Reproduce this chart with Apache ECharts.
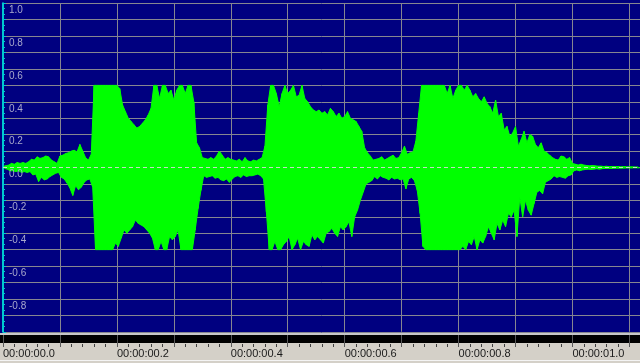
<!DOCTYPE html>
<html>
<head>
<meta charset="utf-8">
<script src="https://cdn.jsdelivr.net/npm/echarts@6/dist/echarts.min.js"></script>
<style>
html,body{margin:0;padding:0;background:#000080;}
#chart{width:640px;height:363px;}
</style>
</head>
<body>
<div id="chart"></div>
<script>
// sample spacing of the envelope readings (seconds)
const sampleStep = 0.005;

// upper envelope (max per sample window)
const upperEnv = [
0.005,0.01,0.015,0.025,0.02,0.03,0.025,0.03,0.025,0.035,
0.05,0.045,0.065,0.055,0.06,0.07,0.065,0.045,0.035,0.025,
0.07,0.075,0.085,0.09,0.1,0.105,0.095,0.14,0.1,0.06,
0.045,0.08,0.5,0.5,0.5,0.5,0.5,0.5,0.5,0.5,
0.5,0.48,0.38,0.34,0.3,0.28,0.26,0.24,0.25,0.27,
0.29,0.32,0.36,0.5,0.5,0.42,0.5,0.5,0.45,0.47,
0.41,0.47,0.5,0.5,0.45,0.5,0.5,0.4,0.15,0.12,
0.06,0.055,0.05,0.06,0.05,0.07,0.1,0.075,0.05,0.06,
0.05,0.045,0.04,0.05,0.035,0.06,0.04,0.035,0.045,0.04,
0.05,0.06,0.13,0.38,0.5,0.5,0.45,0.37,0.45,0.5,
0.45,0.47,0.5,0.43,0.44,0.5,0.42,0.4,0.37,0.35,
0.34,0.35,0.33,0.34,0.32,0.36,0.34,0.31,0.33,0.3,
0.31,0.34,0.3,0.29,0.28,0.25,0.22,0.12,0.09,0.07,
0.045,0.05,0.055,0.065,0.045,0.055,0.065,0.075,0.055,0.06,
0.09,0.13,0.08,0.09,0.095,0.16,0.33,0.5,0.5,0.5,
0.5,0.5,0.5,0.5,0.5,0.5,0.45,0.5,0.42,0.47,
0.5,0.5,0.47,0.5,0.47,0.43,0.45,0.42,0.4,0.43,
0.39,0.37,0.33,0.41,0.31,0.33,0.23,0.25,0.19,0.21,
0.25,0.13,0.17,0.22,0.15,0.2,0.19,0.14,0.12,0.15,
0.1,0.09,0.075,0.06,0.05,0.045,0.07,0.065,0.05,0.06,
0.025,0.02,0.015,0.02,0.015,0.012,0.01,0.012,0.01,0.008,
0.008,0.006,0.007,0.005,0.006,0.004,0.005,0.003,0.004,0.003,0.003,0.003,0.002,0.002
];

// lower envelope (min per sample window)
const lowerEnv = [
-0.005,-0.01,-0.02,-0.02,-0.025,-0.02,-0.03,-0.025,-0.03,-0.025,
-0.045,-0.04,-0.085,-0.06,-0.075,-0.07,-0.055,-0.045,-0.035,-0.03,
-0.06,-0.07,-0.095,-0.125,-0.17,-0.11,-0.135,-0.12,-0.09,-0.075,
-0.07,-0.12,-0.5,-0.5,-0.5,-0.5,-0.5,-0.5,-0.5,-0.46,
-0.48,-0.43,-0.38,-0.4,-0.38,-0.36,-0.32,-0.34,-0.35,-0.36,
-0.38,-0.4,-0.43,-0.5,-0.5,-0.45,-0.5,-0.5,-0.42,-0.44,
-0.42,-0.38,-0.5,-0.5,-0.5,-0.5,-0.5,-0.38,-0.25,-0.14,
-0.05,-0.06,-0.055,-0.05,-0.065,-0.06,-0.075,-0.08,-0.07,-0.09,
-0.07,-0.055,-0.05,-0.06,-0.045,-0.055,-0.05,-0.05,-0.045,-0.04,
-0.05,-0.07,-0.27,-0.5,-0.5,-0.45,-0.5,-0.5,-0.47,-0.45,
-0.42,-0.5,-0.47,-0.43,-0.5,-0.45,-0.47,-0.48,-0.41,-0.44,
-0.42,-0.44,-0.46,-0.4,-0.39,-0.37,-0.4,-0.42,-0.36,-0.38,
-0.36,-0.33,-0.42,-0.3,-0.26,-0.2,-0.15,-0.1,-0.09,-0.08,
-0.055,-0.07,-0.05,-0.06,-0.065,-0.075,-0.06,-0.07,-0.065,-0.075,
-0.07,-0.13,-0.07,-0.06,-0.08,-0.14,-0.28,-0.48,-0.5,-0.5,
-0.5,-0.5,-0.5,-0.5,-0.5,-0.5,-0.5,-0.5,-0.5,-0.5,
-0.5,-0.48,-0.5,-0.45,-0.47,-0.42,-0.5,-0.44,-0.46,-0.42,
-0.36,-0.4,-0.44,-0.34,-0.38,-0.32,-0.36,-0.28,-0.3,-0.26,
-0.42,-0.18,-0.3,-0.2,-0.26,-0.29,-0.22,-0.15,-0.14,-0.16,
-0.09,-0.08,-0.07,-0.05,-0.06,-0.055,-0.06,-0.065,-0.05,-0.045,
-0.02,-0.015,-0.02,-0.015,-0.012,-0.01,-0.012,-0.01,-0.008,-0.01,
-0.007,-0.006,-0.005,-0.006,-0.005,-0.004,-0.004,-0.004,-0.003,-0.003,-0.003,-0.002,-0.002,-0.002
];

// axis tick labels
const xTickLabels = ['00:00:00.0','00:00:00.2','00:00:00.4','00:00:00.6','00:00:00.8','00:00:01.0'];
const yTickValues = [1.0,0.8,0.6,0.4,0.2,0.0,-0.2,-0.4,-0.6,-0.8];
const yTickLabels = ['1.0','0.8','0.6','0.4','0.2','0.0','-0.2','-0.4','-0.6','-0.8'];

// build series from the envelope readings
const upperPts = upperEnv.map((v, i) => [i * sampleStep, v]);
const lowerPts = lowerEnv.map((v, i) => [i * sampleStep + sampleStep / 2, v]);
const wave = [];
for (let i = 0; i < upperEnv.length; i++) {
  wave.push(upperPts[i]);
  wave.push(lowerPts[i]);
}

const X_MIN = 0, X_MAX = 1.1186;

const chart = echarts.init(document.getElementById('chart'), null, {renderer: 'canvas'});
chart.setOption({
  animation: false,
  backgroundColor: '#000080',
  grid: {left: 0.5, right: 0, top: 3.25, bottom: 31.25, containLabel: false},
  graphic: [
    {type: 'rect', z: 1, shape: {x: 0, y: 333, width: 640, height: 2}, style: {fill: '#c8c8c8'}},
    {type: 'rect', z: 1, shape: {x: 0, y: 335, width: 640, height: 8}, style: {fill: '#000000'}},
    {type: 'rect', z: 1, shape: {x: 0, y: 343, width: 640, height: 20}, style: {fill: '#d4d0c8'}},
    {type: 'rect', z: 1, shape: {x: 0, y: 360, width: 640, height: 1}, style: {fill: '#f4f4f4'}}
  ],
  xAxis: [
    {
      // grid lines (beneath the waveform)
      type: 'value', min: X_MIN, max: X_MAX, interval: 0.1, position: 'bottom', z: 0,
      axisLine: {show: false, onZero: false}, axisTick: {show: false}, axisLabel: {show: false},
      splitLine: {show: true, lineStyle: {color: '#868690', width: 1}}
    },
    {
      // time ruler
      type: 'value', min: X_MIN, max: X_MAX, interval: 0.1, position: 'bottom',
      offset: 15.25, z: 10,
      axisLine: {show: false, onZero: false},
      splitLine: {show: false},
      axisTick: {show: true, inside: true, length: 12, lineStyle: {color: '#5a5a5a', width: 1}},
      minorTick: {show: true, splitNumber: 5, length: 3, lineStyle: {color: '#404040', width: 1}},
      axisLabel: {
        show: true,
        inside: false,
        margin: 1,
        align: 'left',
        color: '#1a1a1a',
        fontFamily: 'Liberation Sans',
        fontSize: 11,
        showMinLabel: true,
        showMaxLabel: false,
        hideOverlap: false,
        formatter: function (v) {
          const k = Math.round(v * 10);
          if (k % 2 !== 0) return '';
          return xTickLabels[k / 2] || '';
        }
      }
    }
  ],
  yAxis: [
    {
      type: 'value', min: -1, max: 1, interval: 0.1, z: 0,
      axisLine: {show: false, onZero: false}, axisTick: {show: false}, axisLabel: {show: false},
      splitLine: {show: true, lineStyle: {color: '#868690', width: 1}}
    },
    {
      type: 'value', min: -1, max: 1, interval: 0.1, position: 'left', z: 10,
      splitLine: {show: false},
      axisLine: {show: true, onZero: false, lineStyle: {color: '#00c8d0', width: 2}},
      axisTick: {show: true, inside: true, length: 3, lineStyle: {color: '#00c8d0'}},
      minorTick: {show: true, splitNumber: 3, length: 2, lineStyle: {color: '#00c8d0'}},
      axisLabel: {
        show: true,
        inside: true,
        margin: 6,
        align: 'left',
        verticalAlign: 'top',
        padding: [2, 0, 0, 0],
        color: '#a8a8cc',
        fontFamily: 'Liberation Sans',
        fontSize: 10,
        showMinLabel: true,
        showMaxLabel: true,
        hideOverlap: false,
        formatter: function (v) {
          for (let j = 0; j < yTickValues.length; j++) {
            if (Math.abs(v - yTickValues[j]) < 1e-6) return yTickLabels[j];
          }
          return '';
        }
      }
    }
  ],
  series: [
    {
      type: 'line', xAxisIndex: 0, yAxisIndex: 0,
      data: upperPts, showSymbol: false, symbol: 'none', sampling: null, z: 3,
      lineStyle: {color: '#00ff00', width: 1},
      areaStyle: {color: '#00ff00', opacity: 1, origin: 'auto'}
    },
    {
      type: 'line', xAxisIndex: 0, yAxisIndex: 0,
      data: lowerPts, showSymbol: false, symbol: 'none', sampling: null, z: 3,
      lineStyle: {color: '#00ff00', width: 1},
      areaStyle: {color: '#00ff00', opacity: 1, origin: 'auto'}
    },
    {
      type: 'line', xAxisIndex: 0, yAxisIndex: 0,
      data: wave, showSymbol: false, symbol: 'none', sampling: null, z: 8,
      lineStyle: {color: '#00ff00', width: 1},
      markLine: {
        silent: true,
        symbol: 'none',
        z: 20,
        label: {show: false},
        lineStyle: {color: '#c4dcc4', type: [4, 3], width: 1, opacity: 1},
        data: [{yAxis: 0}]
      }
    }
  ]
});
</script>
</body>
</html>
